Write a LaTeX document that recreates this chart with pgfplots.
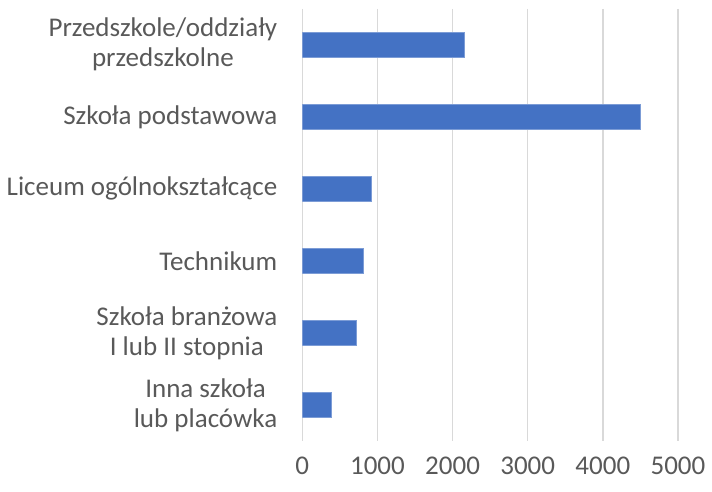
\documentclass[border={0pt 5pt 0pt 4pt}]{standalone}
\usepackage{fontspec}
\setmainfont{Carlito}
\usepackage{pgfplots}
\pgfplotsset{compat=1.18}
\definecolor{barblue}{RGB}{68,114,196}
\definecolor{gridgray}{RGB}{217,217,217}
\definecolor{textgray}{RGB}{89,89,89}

\begin{document}
\begin{tikzpicture}
\begin{axis}[
  scale only axis,
  width=187.7pt, height=216pt,
  xbar, bar width=12.5pt,
  xmin=0, xmax=5000,
  xtick={0,1000,2000,3000,4000,5000},
  ymin=-0.5, ymax=5.5, y dir=reverse,
  ytick={0,1,2,3,4,5},
  yticklabels={{Przedszkole/oddziały\\przedszkolne},
    {Szkoła podstawowa},
    {Liceum ogólnokształcące},
    {Technikum},
    {Szkoła branżowa\\I lub II stopnia~},
    {Inna szkoła~\\lub placówka}},
  yticklabel style={align=center, font=\fontsize{13.5}{15}\selectfont, text=textgray, xshift=-9pt},
  xticklabel style={font=\fontsize{13.5}{15}\selectfont, text=textgray, yshift=-4.5pt},
  /pgf/number format/assume math mode=true,
  scaled x ticks=false,
  xticklabel={\pgfmathprintnumber[1000 sep={}]{\tick}},
  xmajorgrids, grid style={gridgray, line width=0.75pt},
  axis line style={draw=none},
  major tick length=0pt,
]
\addplot[fill=barblue, draw=barblue!70!white, line width=0.3pt] coordinates {
  (2157,0) (4497,1) (915,2) (808,3) (724,4) (386,5)};
\end{axis}
\end{tikzpicture}
\end{document}
